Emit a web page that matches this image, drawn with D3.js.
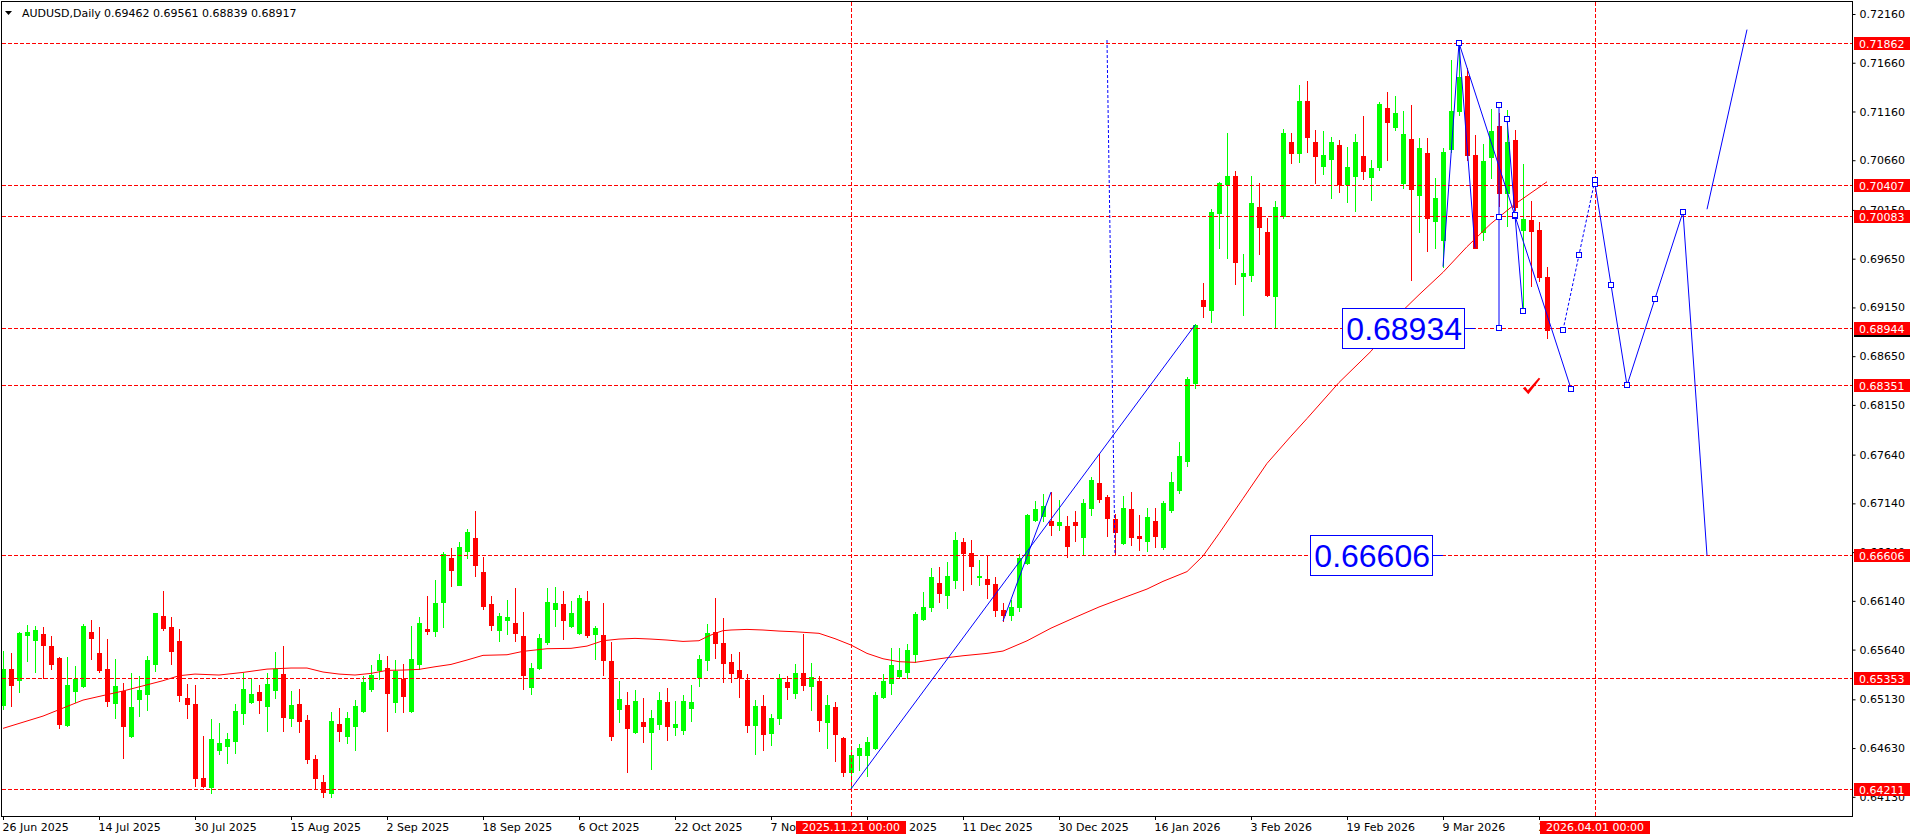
<!DOCTYPE html>
<html><head><meta charset="utf-8">
<script src="https://cdn.jsdelivr.net/npm/d3@7"></script>
<style>
html,body{margin:0;padding:0;background:#fff;overflow:hidden;}
svg{display:block;}
text{font-family:"DejaVu Sans",sans-serif;}
text.big{font-family:"Liberation Sans",Arial,sans-serif;}
</style></head><body>
<svg id="c" width="1916" height="840"></svg>
<script>
// ---------------- DATA ----------------
const symbol = "AUDUSD,Daily";
const opens = [
0.65071,0.65440,0.65331,0.65789,0.65738,0.65800,0.65676,0.65553,0.64869,0.65215,
0.65266,0.65820,0.65604,0.65440,0.65091,0.65215,0.64753,0.65132,0.65184,0.65492,
0.65984,0.65871,0.65728,0.65143,0.65081,0.64322,0.64230,0.64609,0.64650,0.64702,
0.64989,0.65102,0.65204,0.65061,0.65225,0.65389,0.64938,0.65081,0.64917,0.64517,
0.64281,0.64172,0.64876,0.64753,0.64856,0.65010,0.65235,0.65430,0.65451,0.65102,
0.65338,0.65010,0.65492,0.65851,0.65830,0.66128,0.66579,0.66302,0.66651,0.66785,
0.66436,0.66107,0.65841,0.65943,0.65912,0.65779,0.65256,0.65451,0.65717,0.66056,
0.66107,0.65882,0.65810,0.66138,0.65800,0.65789,0.65523,0.65030,0.65071,0.64794,
0.64897,0.64794,0.64880,0.65102,0.64849,0.64818,0.65044,0.65362,0.65536,0.65820,
0.65708,0.65512,0.65430,0.65328,0.64869,0.65061,0.64787,0.64941,0.65307,0.65198,
0.65399,0.65269,0.65317,0.64900,0.65051,0.64736,0.64387,0.64561,0.64561,0.64633,
0.65157,0.65300,0.65372,0.65413,0.65598,0.65953,0.66077,0.66323,0.66203,0.66357,
0.66743,0.66630,0.66388,0.66364,0.66316,0.66050,0.65990,0.66080,0.66524,0.66968,
0.67009,0.66958,0.66917,0.66907,0.66948,0.66794,0.67092,0.67348,0.67204,0.66979,
0.66732,0.67081,0.66804,0.66753,0.66958,0.66691,0.67068,0.67276,0.67574,0.68374,
0.69229,0.69126,0.70118,0.70416,0.70498,0.69472,0.69482,0.70180,0.69923,0.69267,
0.70087,0.70847,0.70734,0.71267,0.70847,0.70600,0.70672,0.70816,0.70416,0.70498,
0.70703,0.70488,0.70590,0.71196,0.71001,0.70426,0.70877,0.70303,0.70734,0.70036,
0.69841,0.70778,0.71168,0.71527,0.70716,0.69919,0.70696,0.71011,0.70324,0.70867,
0.69948,0.70043,0.69940,0.69462];
const highs = [
0.65625,0.65608,0.65820,0.65892,0.65885,0.65871,0.65779,0.65560,0.65563,0.65471,
0.65902,0.65943,0.65871,0.65748,0.65543,0.65297,0.65399,0.65368,0.65574,0.66020,
0.66241,0.65974,0.65851,0.65286,0.65276,0.64753,0.64927,0.64886,0.64784,0.65081,
0.65399,0.65338,0.65276,0.65399,0.65615,0.65676,0.65215,0.65235,0.64968,0.64558,
0.64353,0.64999,0.65040,0.64999,0.65122,0.65369,0.65481,0.65594,0.65574,0.65533,
0.65492,0.65882,0.65974,0.66189,0.66354,0.66641,0.66682,0.66743,0.66877,0.67062,
0.66590,0.66189,0.66015,0.66148,0.66272,0.66025,0.65502,0.65800,0.66272,0.66282,
0.66241,0.66138,0.66200,0.66241,0.65882,0.66118,0.65717,0.65317,0.65204,0.65225,
0.65143,0.65020,0.65204,0.65246,0.65112,0.65174,0.65276,0.65584,0.65902,0.66169,
0.65964,0.65594,0.65615,0.65389,0.65122,0.65177,0.64979,0.65389,0.65369,0.65492,
0.65800,0.65502,0.65369,0.65174,0.65102,0.64740,0.64609,0.64674,0.64746,0.65204,
0.65389,0.65656,0.65656,0.65697,0.66025,0.66230,0.66477,0.66487,0.66538,0.66846,
0.66785,0.66764,0.66559,0.66614,0.66380,0.66120,0.66150,0.66620,0.67030,0.67163,
0.67235,0.67256,0.67174,0.67009,0.67061,0.67184,0.67410,0.67646,0.67225,0.67030,
0.67215,0.67256,0.67020,0.67092,0.67092,0.67163,0.67461,0.67769,0.68436,0.68979,
0.69400,0.70159,0.70436,0.70939,0.70549,0.69698,0.70498,0.70426,0.70067,0.70241,
0.70980,0.70939,0.71431,0.71473,0.70970,0.70960,0.70898,0.70867,0.70795,0.70929,
0.71113,0.70662,0.71257,0.71360,0.71319,0.71165,0.71226,0.70888,0.70888,0.70477,
0.70785,0.71688,0.71862,0.71602,0.70918,0.70822,0.71185,0.71140,0.71179,0.70974,
0.70621,0.70242,0.70031,0.69561];
const lows = [
0.65030,0.65061,0.65208,0.65522,0.65409,0.65351,0.65440,0.64838,0.64860,0.65098,
0.65252,0.65543,0.65413,0.65061,0.64938,0.64527,0.64745,0.64958,0.65020,0.65420,
0.65840,0.65492,0.65115,0.64938,0.64240,0.64230,0.64168,0.64568,0.64476,0.64578,
0.64876,0.65091,0.64989,0.64804,0.65143,0.64804,0.64855,0.64794,0.64476,0.64219,
0.64127,0.64131,0.64702,0.64681,0.64609,0.64999,0.65215,0.65338,0.64804,0.64999,
0.64999,0.65005,0.65440,0.65800,0.65779,0.65871,0.66292,0.66302,0.66579,0.66395,
0.66056,0.65841,0.65728,0.65800,0.65728,0.65235,0.65184,0.65440,0.65697,0.65882,
0.65748,0.65871,0.65800,0.65769,0.65543,0.65379,0.64712,0.64897,0.64384,0.64784,
0.64691,0.64414,0.64828,0.64715,0.64767,0.64777,0.64910,0.65269,0.65434,0.65557,
0.65310,0.65310,0.65157,0.64797,0.64572,0.64613,0.64664,0.64880,0.65136,0.65146,
0.65228,0.65023,0.64808,0.64633,0.64500,0.64346,0.64211,0.64408,0.64346,0.64625,
0.65146,0.65187,0.65362,0.65352,0.65512,0.65943,0.66039,0.66131,0.66066,0.66275,
0.66254,0.66316,0.66306,0.66172,0.65980,0.65933,0.65940,0.66040,0.66520,0.66958,
0.66958,0.66814,0.66866,0.66589,0.66753,0.66606,0.67020,0.67153,0.66804,0.66620,
0.66722,0.66712,0.66661,0.66651,0.66691,0.66671,0.67051,0.67245,0.67522,0.68323,
0.69055,0.69003,0.69759,0.69657,0.69390,0.69072,0.69421,0.69698,0.69267,0.68944,
0.70067,0.70631,0.70641,0.70744,0.70426,0.70518,0.70272,0.70334,0.70231,0.70139,
0.70467,0.70252,0.70559,0.70662,0.70970,0.70375,0.69431,0.69923,0.69728,0.69759,
0.69568,0.70740,0.71123,0.70662,0.69762,0.69841,0.70480,0.70190,0.69985,0.70150,
0.69123,0.69370,0.69416,0.68839];
const closes = [
0.65440,0.65276,0.65810,0.65820,0.65840,0.65690,0.65495,0.64876,0.65276,0.65341,
0.65881,0.65758,0.65430,0.65115,0.65266,0.64855,0.65050,0.65228,0.65533,0.66015,
0.65861,0.65625,0.65173,0.65081,0.64322,0.64240,0.64722,0.64681,0.64722,0.65009,
0.65235,0.65184,0.65122,0.65286,0.65440,0.64948,0.65071,0.64907,0.64517,0.64322,
0.64178,0.64907,0.64808,0.64938,0.65061,0.65307,0.65379,0.65533,0.65194,0.65420,
0.65163,0.65543,0.65912,0.65830,0.66118,0.66620,0.66456,0.66692,0.66846,0.66507,
0.66087,0.65892,0.65984,0.65974,0.65810,0.65379,0.65451,0.65759,0.66128,0.66118,
0.65943,0.66015,0.66169,0.65789,0.65861,0.65533,0.64753,0.65133,0.64835,0.65112,
0.64856,0.64938,0.65122,0.64859,0.64880,0.65112,0.65102,0.65543,0.65810,0.65711,
0.65505,0.65403,0.65362,0.64869,0.65061,0.64777,0.64938,0.65348,0.65259,0.65399,
0.65280,0.65358,0.64921,0.65071,0.64777,0.64387,0.64558,0.64633,0.64695,0.65174,
0.65317,0.65481,0.65430,0.65635,0.66005,0.66077,0.66384,0.66224,0.66395,0.66764,
0.66634,0.66501,0.66395,0.66316,0.66050,0.65990,0.66080,0.66575,0.67020,0.67081,
0.67112,0.66917,0.66948,0.66702,0.66917,0.67143,0.67379,0.67184,0.66989,0.66845,
0.67092,0.66794,0.66784,0.66999,0.66804,0.67143,0.67358,0.67625,0.68415,0.68969,
0.69167,0.70128,0.70426,0.70498,0.69615,0.69503,0.70221,0.69975,0.69277,0.70180,
0.70939,0.70734,0.71267,0.70898,0.70703,0.70713,0.70847,0.70416,0.70590,0.70847,
0.70549,0.70580,0.71237,0.71052,0.71144,0.70929,0.70364,0.70785,0.70067,0.70272,
0.70744,0.71168,0.71510,0.70716,0.69762,0.70651,0.70959,0.70324,0.70847,0.70176,
0.70057,0.69937,0.69462,0.68917];

// moving average (bar index, value)
const maIdx = [0,5,10,15,20,22,24,27,30,33,36,38,40,42,44,46,48,50,52,54,56,58,60,63,65,68,71,73,75,77,79,81,83,85,87,88,89,90,91,93,95,97,99,102,104,106,108,110,112,114,116,118,120,123,125,128,131,134,137,140,143,145,148,150,152,155,158,161,163,167,171,175,177,180,183,186,189,193];
const maVal = [0.64832,0.64958,0.65122,0.65215,0.65321,0.65372,0.65389,0.65379,0.65406,0.65440,0.65451,0.65451,0.65410,0.65389,0.65379,0.65396,0.65427,0.65430,0.65437,0.65464,0.65488,0.65533,0.65581,0.65587,0.65622,0.65649,0.65653,0.65676,0.65731,0.65748,0.65755,0.65748,0.65738,0.65724,0.65731,0.65772,0.65807,0.65834,0.65841,0.65847,0.65841,0.65830,0.65823,0.65807,0.65752,0.65687,0.65601,0.65546,0.65516,0.65509,0.65533,0.65557,0.65577,0.65601,0.65625,0.65730,0.65860,0.65970,0.66077,0.66170,0.66261,0.66340,0.66440,0.66600,0.66830,0.67190,0.67550,0.67830,0.68010,0.68380,0.68700,0.69120,0.69280,0.69510,0.69773,0.70010,0.70210,0.70439];

const xTickIdx = [0,12,24,36,48,60,72,84,96,108,120,132,144,156,168,180,192];
const xTickLabels = ["26 Jun 2025","14 Jul 2025","30 Jul 2025","15 Aug 2025","2 Sep 2025","18 Sep 2025","6 Oct 2025","22 Oct 2025","7 Nov 2025","25 Nov 2025","11 Dec 2025","30 Dec 2025","16 Jan 2026","3 Feb 2026","19 Feb 2026","9 Mar 2026","25 Mar 2026"];
const yTickValues = [0.72160,0.71660,0.71160,0.70660,0.70150,0.69650,0.69150,0.68650,0.68150,0.67640,0.67140,0.66640,0.66140,0.65640,0.65130,0.64630,0.64130];

const hLevels = [0.71862,0.70407,0.70083,0.68944,0.68351,0.66606,0.65353,0.64211];
const vLineIdx = [106,199];
const vLineLabels = ["2025.11.21 00:00","2026.04.01 00:00"];

// drawn objects: [index, price] pairs
const trendSolid = [
  [[106,0.64211],[149,0.68970]],
  [[125,0.65933],[131,0.67256]],
  [[180,0.69568],[182,0.71862],[184,0.69762]],
  [[210,0.70130],[213,0.66606]],
  [[213,0.70157],[218,0.72000]]
];
const trendSelected = [
  [[182,0.71862],[196,0.68315]],
  [[187,0.71226],[187,0.68934]],
  [[188,0.71088],[190,0.69110]],
  [[199,0.70416],[203,0.68351]],
  [[203,0.68351],[210,0.70130]]
];
const trendDotted = [
  [[138,0.71893],[139,0.66620]]
];
const trendDottedSelected = [
  [[195,0.68917],[199,0.70460]]
];
const textLabels = [ {i:184, p:0.68934, t:"0.68934"}, {i:180, p:0.66606, t:"0.66606"} ];
const checkMark = {i:190.6, p:0.68270};

// ---------------- DRAW ----------------
const svg = d3.select("#c");
const L=2, T=2, R=1852, B=816;
const x = d3.scaleLinear().domain([0,200]).range([3,1603]);
const y = d3.scaleLinear().domain([0.64130,0.72160]).range([796.8,14]);
const RED="#ff0000", GREEN="#00ff00", BLUE="#0000ff";

svg.append("rect").attr("width",1916).attr("height",840).attr("fill","#fff");
svg.append("defs").append("clipPath").attr("id","clip")
  .append("rect").attr("x",L).attr("y",T).attr("width",R-L).attr("height",B-T);
const plot = svg.append("g").attr("clip-path","url(#clip)");

// candles
const n = opens.length;
const bars = d3.range(n).map(i=>({i,o:opens[i],h:highs[i],l:lows[i],c:closes[i]}));
const cg = plot.append("g").attr("shape-rendering","crispEdges");
cg.selectAll("rect.w").data(bars).join("rect").attr("class","w")
  .attr("x",d=>Math.round(x(d.i))).attr("width",1)
  .attr("y",d=>Math.round(y(d.h))).attr("height",d=>Math.max(1,Math.round(y(d.l))-Math.round(y(d.h))+1))
  .attr("fill",d=>d.c>=d.o?GREEN:RED);
cg.selectAll("rect.b").data(bars).join("rect").attr("class","b")
  .attr("x",d=>Math.round(x(d.i))-2).attr("width",5)
  .attr("y",d=>Math.round(y(Math.max(d.o,d.c))))
  .attr("height",d=>Math.max(1,Math.round(y(Math.min(d.o,d.c)))-Math.round(y(Math.max(d.o,d.c)))+1))
  .attr("fill",d=>d.c>=d.o?GREEN:RED);

// moving average
const ma = maIdx.map((d,k)=>[d,maVal[k]]);
plot.append("path").datum(ma)
  .attr("d",d3.line().x(d=>x(d[0])).y(d=>y(d[1])))
  .attr("fill","none").attr("stroke",RED).attr("stroke-width",1);

// horizontal & vertical dashed lines
const og = plot.append("g").attr("shape-rendering","crispEdges");
og.selectAll("line.h").data(hLevels).join("line").attr("class","h")
  .attr("x1",L).attr("x2",R).attr("y1",d=>Math.round(y(d))+0.5).attr("y2",d=>Math.round(y(d))+0.5)
  .attr("stroke",RED).attr("stroke-dasharray","4,2");
og.selectAll("line.v").data(vLineIdx).join("line").attr("class","v")
  .attr("x1",d=>Math.round(x(d))+0.5).attr("x2",d=>Math.round(x(d))+0.5).attr("y1",T).attr("y2",B)
  .attr("stroke",RED).attr("stroke-dasharray","4,2");

// trend lines
const line = d3.line().x(d=>x(d[0])).y(d=>y(d[1]));
const tg = plot.append("g");
tg.selectAll("path.s").data(trendSolid.concat(trendSelected)).join("path").attr("class","s")
  .attr("d",line).attr("fill","none").attr("stroke",BLUE).attr("stroke-width",1);
tg.selectAll("path.d").data(trendDotted.concat(trendDottedSelected)).join("path").attr("class","d")
  .attr("d",line).attr("fill","none").attr("stroke",BLUE).attr("stroke-width",1).attr("stroke-dasharray","3,2");
// selection handles (endpoints + middle)
const handles = [];
trendSelected.concat(trendDottedSelected).forEach(s=>{
  handles.push(s[0], s[1], [(s[0][0]+s[1][0])/2,(s[0][1]+s[1][1])/2]);
});
tg.selectAll("rect.hd").data(handles).join("rect").attr("class","hd")
  .attr("x",d=>Math.round(x(d[0]))-2.5).attr("y",d=>Math.round(y(d[1]))-2.5)
  .attr("width",5).attr("height",5).attr("fill","#fff").attr("stroke",BLUE).attr("stroke-width",1)
  .attr("shape-rendering","crispEdges");

// text labels with boxes
textLabels.forEach(lb=>{
  const ax = x(lb.i), ay = y(lb.p);
  const g = plot.append("g");
  const t = g.append("text").attr("class","big").text(lb.t)
    .attr("font-size",32).attr("fill",BLUE).attr("text-anchor","end")
    .attr("x",ax-13).attr("y",ay+12);
  const bb = t.node().getBBox();
  g.insert("rect","text").attr("x",Math.round(bb.x)-3.5).attr("y",Math.round(ay)-19.5)
    .attr("width",Math.round(bb.width)+6).attr("height",40)
    .attr("fill","#fff").attr("stroke",BLUE).attr("stroke-width",1).attr("shape-rendering","crispEdges");
  g.append("line").attr("x1",ax-10).attr("x2",ax).attr("y1",Math.round(ay)+0.5).attr("y2",Math.round(ay)+0.5)
    .attr("stroke",BLUE);
});

// check mark
{
  const cx = x(checkMark.i), cy = y(checkMark.p);
  plot.append("path")
    .attr("d",`M${cx-5},${cy-5} L${cx-2.5},${cy-6.5} L${cx},${cy-3} L${cx+11},${cy-15.5} L${cx+12.5},${cy-14.5} L${cx+0.5},${cy+1} Z`)
    .attr("fill",RED);
}

// frame
svg.append("rect").attr("x",L-0.5).attr("y",T-0.5).attr("width",R-L+1).attr("height",B-T+1)
  .attr("fill","none").attr("stroke","#000").attr("shape-rendering","crispEdges");

// price axis
const yAxis = d3.axisRight(y).tickValues(yTickValues).tickFormat(d3.format(".5f")).tickSize(3).tickPadding(4);
const ya = svg.append("g").attr("transform",`translate(${R+0.5},0)`).call(yAxis);
ya.select(".domain").remove();
ya.selectAll("text").attr("font-size",11).attr("fill","#000");
ya.selectAll("line").attr("stroke","#000");

// time axis
const xAxis = d3.axisBottom(x).tickValues(xTickIdx).tickFormat((d,k)=>xTickLabels[k]).tickSize(4).tickPadding(3);
const xa = svg.append("g").attr("transform",`translate(0,${B})`).call(xAxis);
xa.select(".domain").remove();
xa.selectAll("text").attr("text-anchor","start").attr("dx","-1").attr("font-size",11).attr("fill","#000");
xa.selectAll("line").attr("stroke","#000");

// current price label (black), then level labels (red)
const lastClose = closes[n-1];
function priceTag(p, bg){
  const yy = Math.round(y(p));
  svg.append("rect").attr("x",R+2).attr("y",yy-6).attr("width",56).attr("height",13).attr("fill",bg).attr("shape-rendering","crispEdges");
  svg.append("text").attr("x",R+7).attr("y",yy+4.5).attr("font-size",11).attr("fill","#fff").text(d3.format(".5f")(p));
}
priceTag(lastClose,"#000");
hLevels.forEach(p=>priceTag(p,RED));

// vertical line labels
vLineIdx.forEach((d,k)=>{
  const vx = Math.round(x(d));
  const t = svg.append("text").attr("x",vx).attr("y",831).attr("font-size",11).attr("fill","#fff")
    .attr("text-anchor","middle").text(vLineLabels[k]);
  const w = t.node().getBBox().width + 12;
  svg.insert("rect", () => t.node()).attr("x",Math.round(vx-w/2)).attr("y",821).attr("width",Math.round(w)).attr("height",13)
    .attr("fill",RED).attr("shape-rendering","crispEdges");
});

// title
svg.append("path").attr("d","M5,11 L12,11 L8.5,15 Z").attr("fill","#000");
svg.append("text").attr("x",22).attr("y",17).attr("font-size",11).attr("fill","#000").text(symbol);
svg.append("text").attr("x",104).attr("y",17).attr("font-size",11).attr("fill","#000")
  .text([opens[n-1],highs[n-1],lows[n-1],closes[n-1]].map(d3.format(".5f")).join(" "));
</script>
</body></html>
